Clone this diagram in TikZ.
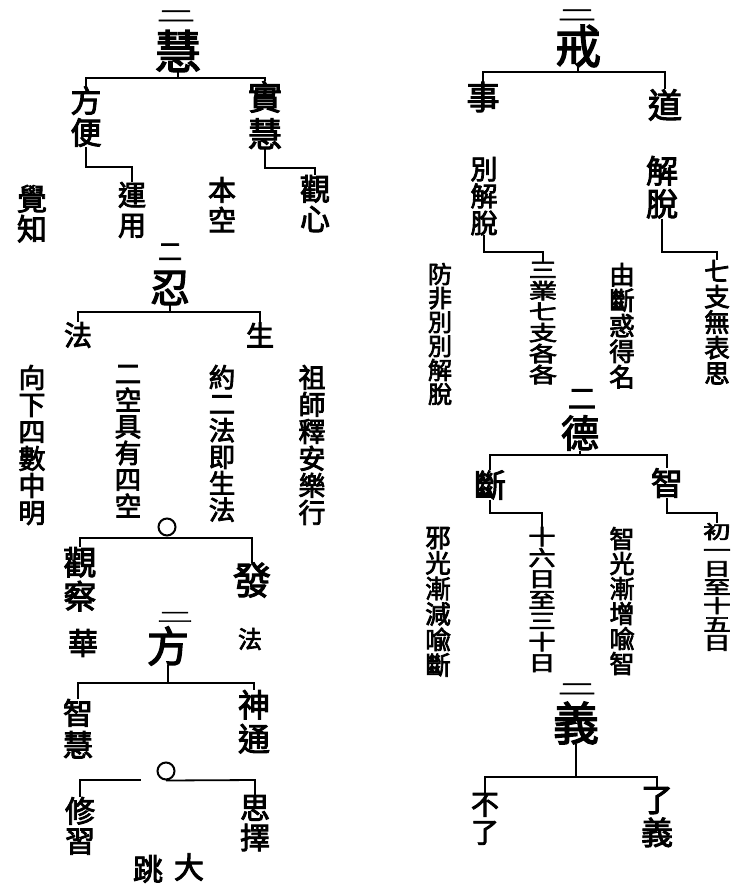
\documentclass[tikz,border=0pt]{standalone}
\usepackage{fontspec}
\usepackage{graphicx}
\newfontfamily\cjk{Noto Sans CJK TC}[FakeBold=3]
\newcommand{\vf}[2]{\cjk\fontsize{#1}{#2}\selectfont}
\newcommand{\flattwo}{\scalebox{1.35}[0.55]{二}}
\tikzset{
  ln/.style={line width=2.2pt},
  t/.style={inner sep=0pt, outer sep=0pt, align=center},
  ring/.style={circle, draw, line width=2pt, minimum size=17pt, inner sep=0pt},
}
\begin{document}
\begin{tikzpicture}[x=1pt,y=-1pt]
\fill[white] (0,0) rectangle (747,893);
\useasboundingbox (0,0) rectangle (747,893);

% level coordinates
\coordinate (L1) at (0,78);
\coordinate (L2) at (0,167);
\coordinate (L3) at (0,168);
\coordinate (L4) at (0,312);
\coordinate (L5) at (0,538);
\coordinate (L6) at (0,683);
\coordinate (L7) at (0,780);
\coordinate (R1) at (0,72);
\coordinate (R2) at (0,252);
\coordinate (R3) at (0,455);
\coordinate (R4) at (0,513);
\coordinate (R5) at (0,777);

% ===== left: 二慧 =====
\node[t, font=\vf{28}{28}] (hui2) at (176,16) {\flattwo};
\node[t, font=\vf{46}{46}] (hui) at (178,51) {慧};
\node[t, font=\vf{31}{32}, anchor=north] (fb) at (86,86) {方\\便};
\node[t, font=\vf{34}{37}, anchor=north] (sh) at (265,81) {實\\慧};
\node[t, font=\vf{28}{30}, anchor=north] (yy) at (132,182) {運\\用};
\node[t, font=\vf{28}{30}, anchor=north] (bk) at (222,177) {本\\空};
\node[t, font=\vf{30}{30}, anchor=north] (gx) at (315,175) {觀\\心};
\node[t, font=\vf{30}{30}, anchor=north] (jz) at (32,185) {覺\\知};

\draw[ln] (hui.south) -- (hui.south |- L1);
\draw[ln] (fb.north) -- (fb.north |- L1) -- (sh.north |- L1) -- (sh.north);
\draw[ln] (fb.south) -- (fb.south |- L2) -| (yy.north);
\draw[ln] (sh.south) -- (sh.south |- L3) -| (gx.north);

% ===== 二忍 =====
\node[t, font=\vf{24}{24}] (ren2) at (170,252) {二};
\node[t, font=\vf{40}{40}] (ren) at (170,288) {忍};
\node[t, font=\vf{28}{28}] (fa) at (78,335) {法};
\node[t, font=\vf{28}{28}] (sheng) at (260,335) {生};
\draw[ln] (ren.south) -- (ren.south |- L4);
\draw[ln] (fa.north) -- (fa.north |- L4) -- (sheng.north |- L4) -- (sheng.north);

\node[t, font=\vf{27}{27}, anchor=north] (c1) at (32,365) {向\\下\\四\\數\\中\\明};
\node[t, font=\vf{26.5}{26.5}, anchor=north] (c2) at (128,365) {二\\空\\具\\有\\四\\空};
\node[t, font=\vf{26.5}{26.5}, anchor=north] (c3) at (222,365) {約\\二\\法\\即\\生\\法};
\node[t, font=\vf{27}{27}, anchor=north] (c4) at (312,365) {祖\\師\\釋\\安\\樂\\行};

% ===== circle 1 =====
\node[ring] (o1) at (167,527) {};
\node[t, font=\vf{33}{34}, anchor=north] (gc) at (80,547) {觀\\察};
\node[t, font=\vf{30}{30}] (hua) at (83,643) {華};
\node[t, font=\vf{38}{38}] (fa2) at (252,580) {發};
\node[t, font=\vf{24}{24}] (fa3) at (250,639) {法};
\draw[ln] (o1.south) -- (o1.south |- L5);
\draw[ln] (gc.north) -- (gc.north |- L5) -- (fa2.north |- L5) -- (fa2.north);

% ===== 二方 =====
\node[t, font=\vf{26}{26}] (fang2) at (175,617) {\flattwo};
\node[t, font=\vf{42}{42}] (fang) at (168,646) {方};
\node[t, font=\vf{30}{32}, anchor=north] (zh) at (78,699) {智\\慧};
\node[t, font=\vf{32}{34}, anchor=north] (st) at (254,690) {神\\通};
\draw[ln] (fang.south) -- (fang.south |- L6);
\draw[ln] (zh.north) -- (zh.north |- L6) -- (st.north |- L6) -- (st.north);

% ===== circle 2 =====
\node[ring] (o2) at (166,771) {};
\coordinate (g1) at (141,780);
\node[t, font=\vf{30}{30}, anchor=north] (xx) at (80,797) {修\\習};
\node[t, font=\vf{30}{30}, anchor=north] (sz) at (255,795) {思\\擇};
\draw[line width=1.8pt] (xx.north) -- (xx.north |- L7) -- (g1);
\draw[line width=1.8pt] (o2.south) -- (sz.north |- L7) -- (sz.north);

\node[t, font=\vf{30}{30}] (tiao) at (148,869) {跳};
\node[t, font=\vf{30}{30}] (da) at (189,867) {大};

% ===== right: 二戒 =====
\node[t, font=\vf{28}{28}] (jie2) at (577,15) {\flattwo};
\node[t, font=\vf{46}{46}] (jie) at (578,46) {戒};
\node[t, font=\vf{33}{33}] (shi) at (483,97) {事};
\node[t, font=\vf{34}{34}] (dao) at (665,105) {道};
\draw[ln] (jie.south) -- (jie.south |- R1);
\draw[ln] (shi.north) -- (shi.north |- R1) -- (dao.north |- R1) -- (dao.north);

\node[t, font=\vf{27}{27}, anchor=north] (bjt) at (484,157) {別\\解\\脫};
\node[t, font=\vf{32}{33}, anchor=north] (jt) at (662,156) {解\\脫};
\node[t, font=\vf{24}{24}, anchor=north] (c5) at (440,263) {防\\非\\別\\別\\解\\脫};
\begin{scope}[shift={(543,262)}, xscale=1.35, transform shape]
\node[t, font=\vf{21}{21}, anchor=north] (c6) at (0,0) {三\\業\\七\\支\\各\\各};
\end{scope}
\node[t, font=\vf{25.5}{25.5}, anchor=north] (c7) at (622,263) {由\\斷\\惑\\得\\名};
\node[t, font=\vf{25.5}{25.5}, anchor=north] (c8) at (717,260) {七\\支\\無\\表\\思};
\draw[ln] (bjt.south) -- (bjt.south |- R2) -| (c6.north);
\draw[ln] (jt.south) -- (jt.south |- R2) -| (c8.north);

% ===== 二德 =====
\node[t, font=\vf{28}{28}] (de2) at (582,399) {二};
\node[t, font=\vf{38}{38}] (de) at (580,433) {德};
\node[t, font=\vf{32}{32}] (duan) at (490,485) {斷};
\node[t, font=\vf{32}{32}] (zhi) at (667,483) {智};
\draw[ln] (de.south) -- (de.south |- R3);
\draw[ln] (duan.north) -- (duan.north |- R3) -- (zhi.north |- R3) -- (zhi.north);
\node[t, font=\vf{25.5}{25.5}, anchor=north] (c9) at (438,527) {邪\\光\\漸\\減\\喩\\斷};
\begin{scope}[shift={(542,527)}, xscale=1.3, transform shape]
\node[t, font=\vf{21}{21}, anchor=north] (c10) at (0,0) {十\\六\\日\\至\\三\\十\\日};
\end{scope}
\node[t, font=\vf{25}{25}, anchor=north] (c11) at (622,527) {智\\光\\漸\\增\\喩\\智};
\begin{scope}[shift={(717,523)}, xscale=1.5, transform shape]
\node[t, font=\vf{18.5}{18.5}, anchor=north] (c12) at (0,0) {初\\一\\日\\至\\十\\五\\日};
\end{scope}
\draw[ln] (duan.south) -- (duan.south |- R4) -| (c10.north);
\draw[ln] (zhi.south) -- (zhi.south |- R4) -| (c12.north);

% ===== 二義 =====
\node[t, font=\vf{28}{28}] (yi2) at (577,689) {\flattwo};
\node[t, font=\vf{46}{46}] (yi) at (576,723) {義};
\node[t, font=\vf{28}{28}, anchor=north] (bl) at (485,793) {不\\了};
\node[t, font=\vf{32}{33}, anchor=north] (ly) at (657,787) {了\\義};
\draw[line width=1.8pt] (yi.south) -- (yi.south |- R5);
\draw[line width=1.8pt] (bl.north) -- (bl.north |- R5) -- (ly.north |- R5) -- (ly.north);
\end{tikzpicture}
\end{document}
